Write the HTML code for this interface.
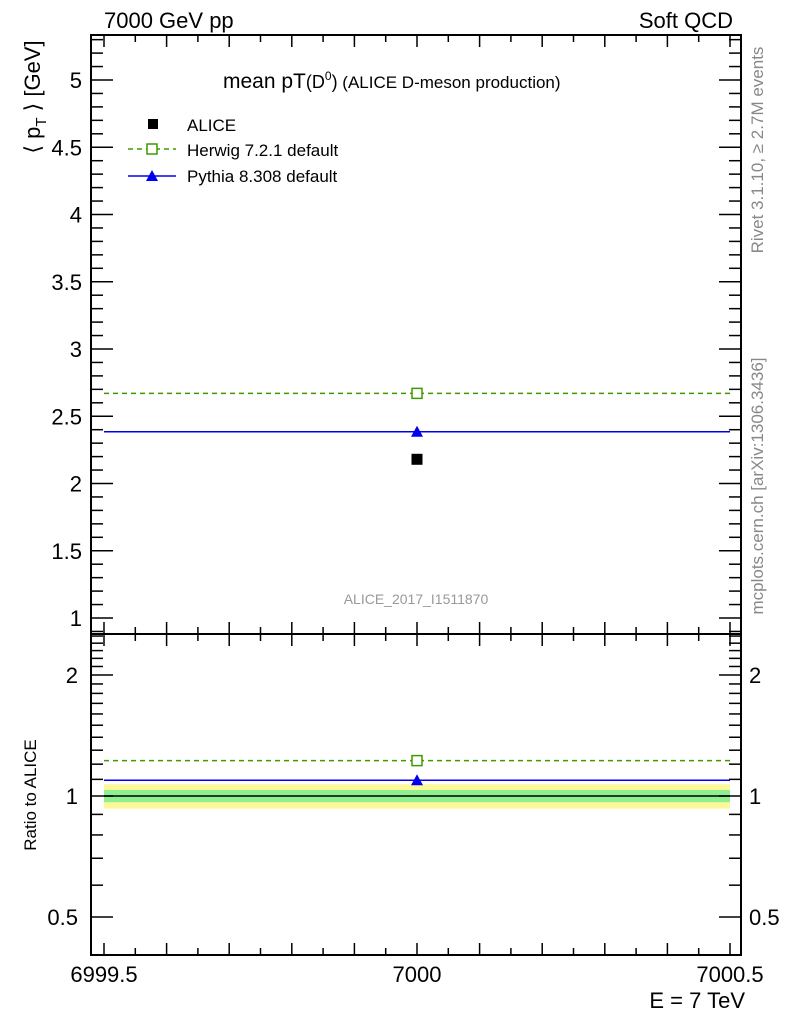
<!DOCTYPE html>
<html><head><meta charset="utf-8"><style>
body{margin:0;background:#fff;}
svg text{font-family:"Liberation Sans",sans-serif;}
</style></head><body>
<svg id="c" width="786" height="1024" xmlns="http://www.w3.org/2000/svg"></svg>
<script>
const energies=[7000];
const aliceVals=[2.18];
const herwigVals=[2.67];
const pythiaVals=[2.385];
const mainTicks=[1,1.5,2,2.5,3,3.5,4,4.5,5];
const ratioTicks=[0.5,1,2];
const xTicks=[6999.5,7000,7000.5];
const bandInner=[0.035];
const bandOuter=[0.07];

const NS="http://www.w3.org/2000/svg";
const svg=document.getElementById('c');
const L=91,R=741,T=35,M=634,B=955;
const sx=v=>104+(v-6999.5)*626;
const sy=v=>618-(v-1)*134.5;
const sr=v=>796-Math.log2(v)*121;
function el(t,a,p){const e=document.createElementNS(NS,t);for(const k in a)e.setAttribute(k,a[k]);(p||svg).appendChild(e);return e;}
function txt(x,y,s,sz,anchor,fill){const e=el('text',{x:x,y:y,'font-size':sz,'text-anchor':anchor||'start',fill:fill||'#000'});e.textContent=s;return e;}

const bo=el('rect',{x:sx(6999.5),y:sr(1+bandOuter[0]),width:sx(7000.5)-sx(6999.5),height:sr(1-bandOuter[0])-sr(1+bandOuter[0]),fill:'#fdf89a'});

const bi=el('rect',{x:sx(6999.5),y:sr(1+bandInner[0]),width:sx(7000.5)-sx(6999.5),height:sr(1-bandInner[0])-sr(1+bandInner[0]),fill:'#8ef08e'});

el('line',{x1:sx(6999.5),x2:sx(7000.5),y1:sr(1),y2:sr(1),stroke:'#000','stroke-width':1.5});

el('rect',{x:L,y:T,width:R-L,height:M-T,fill:'none',stroke:'#000','stroke-width':2});
el('rect',{x:L,y:M,width:R-L,height:B-M,fill:'none',stroke:'#000','stroke-width':2});

for(let i=0;i<=20;i++){const v=6999.5+i*0.05;const x=sx(v);const big=i%2==0;const h=big?12:7;
 el('line',{x1:x,x2:x,y1:T,y2:T+h,stroke:'#000','stroke-width':1.5});
 el('line',{x1:x,x2:x,y1:M,y2:M-h,stroke:'#000','stroke-width':1.5});
 el('line',{x1:x,x2:x,y1:M,y2:M+h,stroke:'#000','stroke-width':1.5});
 el('line',{x1:x,x2:x,y1:B,y2:B-h,stroke:'#000','stroke-width':1.5});}
xTicks.forEach(v=>{const t=txt(sx(v),982,String(v),22,'middle');});

for(let v=0.9;v<=5.31;v+=0.1){const y=sy(v);const maj=Math.abs(v*2-Math.round(v*2))<1e-6;const h=maj?22:12;
 if(y<T||y>M)continue;
 el('line',{x1:L,x2:L+h,y1:y,y2:y,stroke:'#000','stroke-width':1.5});
 el('line',{x1:R,x2:R-h,y1:y,y2:y,stroke:'#000','stroke-width':1.5});}
mainTicks.forEach(v=>{const t=txt(82,sy(v)+8,String(v),22,'end');});

[0.4,0.5,0.6,0.7,0.8,0.9,1,1.1,1.2,1.3,1.4,1.5,1.6,1.7,1.8,1.9,2,2.1,2.2,2.3,2.4,2.5].forEach(v=>{const y=sr(v);if(y<M||y>B)return;const maj=ratioTicks.includes(v);const h=maj?22:12;
 el('line',{x1:L,x2:L+h,y1:y,y2:y,stroke:'#000','stroke-width':1.5});
 el('line',{x1:R,x2:R-h,y1:y,y2:y,stroke:'#000','stroke-width':1.5});});
ratioTicks.forEach(v=>{const t=txt(78,sr(v)+8,String(v),22,'end');
 const t2=txt(749,sr(v)+8,String(v),22,'start');});

energies.forEach((e,i)=>{
 const hl=el('line',{x1:sx(6999.5),x2:sx(7000.5),y1:sy(herwigVals[i]),y2:sy(herwigVals[i]),stroke:'#3f9a00','stroke-width':1.5,'stroke-dasharray':'5,4'});
 
 const hm=el('rect',{x:sx(e)-5,y:sy(herwigVals[i])-5,width:10,height:10,fill:'#fff',stroke:'#3f9a00','stroke-width':1.5});
 
 const pl=el('line',{x1:sx(6999.5),x2:sx(7000.5),y1:sy(pythiaVals[i]),y2:sy(pythiaVals[i]),stroke:'#0000ee','stroke-width':1.5});
 
 const py=sy(pythiaVals[i]);
 const pm=el('polygon',{points:`${sx(e)-6},${py+5} ${sx(e)+6},${py+5} ${sx(e)},${py-6}`,fill:'#0000ee'});
 
 const am=el('rect',{x:sx(e)-5.5,y:sy(aliceVals[i])-5.5,width:11,height:11,fill:'#000'});
 
 const hr=herwigVals[i]/aliceVals[i], pr=pythiaVals[i]/aliceVals[i];
 el('line',{x1:sx(6999.5),x2:sx(7000.5),y1:sr(hr),y2:sr(hr),stroke:'#3f9a00','stroke-width':1.5,'stroke-dasharray':'5,4'});
 el('rect',{x:sx(e)-5,y:sr(hr)-5,width:10,height:10,fill:'#fff',stroke:'#3f9a00','stroke-width':1.5});
 el('line',{x1:sx(6999.5),x2:sx(7000.5),y1:sr(pr),y2:sr(pr),stroke:'#0000ee','stroke-width':1.5});
 const ry=sr(pr);
 el('polygon',{points:`${sx(e)-6},${ry+5} ${sx(e)+6},${ry+5} ${sx(e)},${ry-6}`,fill:'#0000ee'});
});

txt(104,28,'7000 GeV pp',22);
txt(733,28,'Soft QCD',22,'end');
const tt=txt(223,88,'',21);
tt.innerHTML='mean pT<tspan font-size="18">(D</tspan><tspan font-size="12" dy="-8">0</tspan><tspan font-size="18" dy="8">)</tspan><tspan font-size="17"> (ALICE D-meson production)</tspan>';
el('rect',{x:148,y:119,width:10,height:10,fill:'#000'});
txt(187,131,'ALICE',17);
el('line',{x1:128,x2:176,y1:149,y2:149,stroke:'#3f9a00','stroke-width':1.5,'stroke-dasharray':'5,4'});
el('rect',{x:147,y:144,width:10,height:10,fill:'#fff',stroke:'#3f9a00','stroke-width':1.5});
txt(187,156,'Herwig 7.2.1 default',17);
el('line',{x1:128,x2:176,y1:176,y2:176,stroke:'#0000ee','stroke-width':1.5});
el('polygon',{points:'146,181 158,181 152,170',fill:'#0000ee'});
txt(187,182,'Pythia 8.308 default',17);
txt(416,604,'ALICE_2017_I1511870',14,'middle','#999');
const yl=txt(0,0,'',22);yl.setAttribute('transform','translate(40,97) rotate(-90)');yl.setAttribute('text-anchor','middle');

yl.innerHTML='⟨ p<tspan font-size="15" dy="6">T</tspan><tspan dy="-6"> ⟩ [GeV]</tspan>';
const rl=txt(0,0,'Ratio to ALICE',17,'middle');rl.setAttribute('transform','translate(36,795) rotate(-90)');

const xl=txt(745,1008,'E = 7 TeV',22,'end');
const r1=txt(0,0,'Rivet 3.1.10, ≥ 2.7M events',17,'middle','#888');r1.setAttribute('transform','translate(763,150) rotate(-90)');
const r2=txt(0,0,'mcplots.cern.ch [arXiv:1306.3436]',17,'middle','#888');r2.setAttribute('transform','translate(763,486) rotate(-90)');
</script>
</body></html>
